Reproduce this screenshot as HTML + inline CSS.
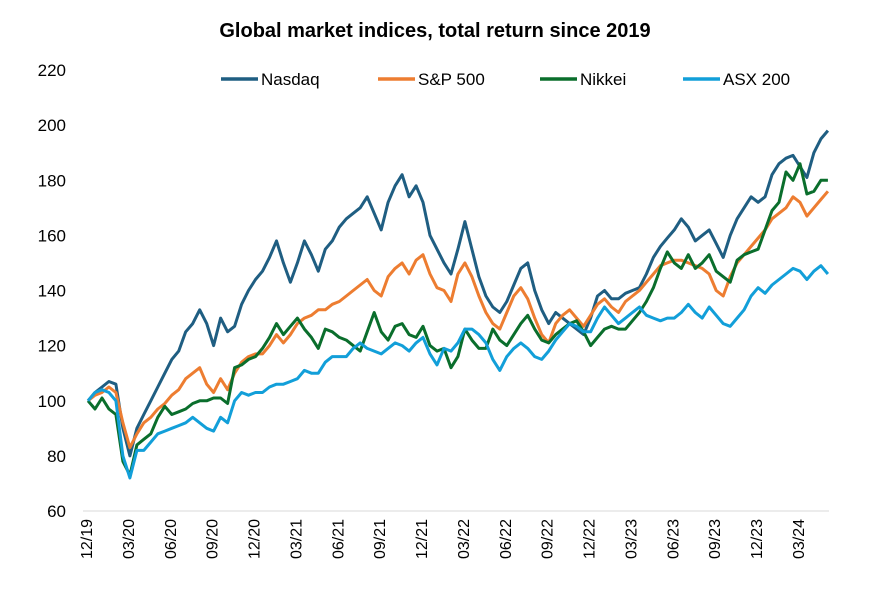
<!DOCTYPE html>
<html><head><meta charset="utf-8">
<style>
body{margin:0;background:#fff;}
svg{display:block;font-family:"Liberation Sans",Arial,sans-serif;}
</style></head>
<body>
<svg id="chart" width="882" height="613" viewBox="0 0 882 613">
<text x="435" y="37" text-anchor="middle" font-size="20" font-weight="bold" fill="#000">Global market indices, total return since 2019</text>
<g id="yaxis"></g>
<g id="xaxis"></g>
<g id="series"></g>
<g id="legend"></g>
</svg>
<script>
const months = [];
for (let i = 0; i <= 106; i++) months.push(i * 0.5);
const nasdaq = [100,103,105,107,106,90,80,90,95,100,105,110,115,118,125,128,133,128,120,130,125,127,135,140,144,147,152,158,150,143,150,158,153,147,155,158,163,166,168,170,174,168,162,172,178,182,174,178,172,160,155,150,146,155,165,155,145,138,134,132,136,142,148,150,140,133,128,132,130,128,126,124,130,138,140,137,137,139,140,141,146,152,156,159,162,166,163,158,160,162,157,152,160,166,170,174,172,174,182,186,188,189,185,181,190,195,198];
const sp500 = [100,102,103,105,103,92,83,88,92,94,97,99,102,104,108,110,112,106,103,108,104,110,114,116,117,117,120,124,121,124,128,130,131,133,133,135,136,138,140,142,144,140,138,145,148,150,146,151,153,146,141,140,136,146,150,145,138,132,128,126,132,138,141,137,130,124,121,128,131,133,130,127,131,135,137,134,132,136,138,140,143,146,149,150,151,151,150,149,148,146,140,138,145,150,153,156,159,162,166,168,170,174,172,167,170,173,176];
const nikkei = [100,97,101,97,95,78,73,84,86,88,94,98,95,96,97,99,100,100,101,101,99,112,113,115,116,119,123,128,124,127,130,126,123,119,126,125,123,122,120,118,125,132,125,122,127,128,124,123,127,120,118,119,112,116,126,122,119,119,126,122,120,124,128,131,126,122,121,124,126,128,129,125,120,123,126,127,126,126,129,132,136,141,148,154,150,148,153,148,150,153,147,145,143,151,153,154,155,162,169,172,183,180,186,175,176,180,180];
const asx200 = [100,103,104,103,100,80,72,82,82,85,88,89,90,91,92,94,92,90,89,94,92,100,103,102,103,103,105,106,106,107,108,111,110,110,114,116,116,116,119,121,119,118,117,119,121,120,118,121,123,117,113,119,118,121,126,126,124,121,115,111,116,119,121,119,116,115,118,122,125,128,127,125,125,130,134,131,128,130,132,134,131,130,129,130,130,132,135,132,130,134,131,128,127,130,133,138,141,139,142,144,146,148,147,144,147,149,146];
const seriesNames = ["Nasdaq","S&P 500","Nikkei","ASX 200"];
const seriesColors = ["#1F5E82","#ED7D31","#0A6E2C","#129FD9"];
const yTicks = [60,80,100,120,140,160,180,200,220];
const xTickLabels = ["12/19","03/20","06/20","09/20","12/20","03/21","06/21","09/21","12/21","03/22","06/22","09/22","12/22","03/23","06/23","09/23","12/23","03/24"];

const NS = "http://www.w3.org/2000/svg";
const X0 = 88, PXM = 13.96, Y60 = 511, PXU = 441/160;
function xScale(m){ return X0 + m * PXM; }
function yScale(v){ return Y60 - (v - 60) * PXU; }
function mk(tag, attrs, parent){ const e = document.createElementNS(NS, tag); for (const k in attrs) e.setAttribute(k, attrs[k]); parent.appendChild(e); return e; }

const yg = document.getElementById('yaxis');
yTicks.forEach(t => {
  const el = mk('text', {x: 66, y: yScale(t) + 6, 'text-anchor': 'end', 'font-size': 17, fill: '#000'}, yg);
  el.textContent = t;
  
  
});
const xg = document.getElementById('xaxis');
const axl = mk('line', {x1: 83, x2: 829, y1: Y60, y2: Y60, stroke: '#d9d9d9', 'stroke-width': 1}, xg);


xTickLabels.forEach((l, i) => {
  const x = xScale(i * 3) - 2;
  const el = mk('text', {transform: 'translate(' + (x + 6) + ',' + 519 + ') rotate(-90)', 'text-anchor': 'end', 'font-size': 16, fill: '#000'}, xg);
  el.textContent = l;
  
  
});

const sg = document.getElementById('series');
[nasdaq, sp500, nikkei, asx200].forEach((vals, si) => {
  const n = Math.min(vals.length, months.length);
  let d = '';
  for (let i = 0; i < n; i++) d += (i ? 'L' : 'M') + xScale(months[i]).toFixed(1) + ',' + yScale(vals[i]).toFixed(1);
  const p = mk('path', {d: d, fill: 'none', stroke: seriesColors[si], 'stroke-width': 3, 'stroke-linejoin': 'round'}, sg);
  
  
});

const lg = document.getElementById('legend');
const legX = [221, 378, 540, 683];
seriesNames.forEach((nm, i) => {
  const g = mk('g', {}, lg);
  
  
  mk('line', {x1: legX[i], x2: legX[i] + 37, y1: 79, y2: 79, stroke: seriesColors[i], 'stroke-width': 3.5}, g);
  const t = mk('text', {x: legX[i] + 40, y: 85, 'font-size': 17, fill: '#000'}, g);
  t.textContent = nm;
});
</script>
</body></html>
